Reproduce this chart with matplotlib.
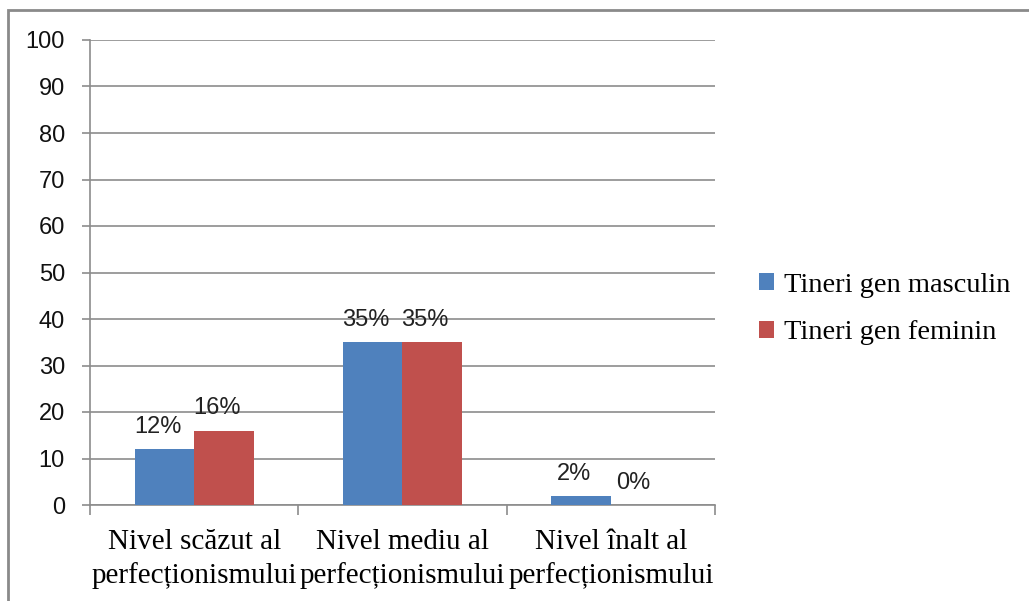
import numpy as np
import matplotlib.pyplot as plt
from matplotlib.patches import Rectangle

# date: procente pe niveluri de perfectionism
categorii = ["Nivel scăzut al\nperfecționismului",
             "Nivel mediu al\nperfecționismului",
             "Nivel înalt al\nperfecționismului"]
masculin = [12, 35, 2]
feminin = [16, 35, 0]
serii = ["Tineri gen masculin", "Tineri gen feminin"]
culori = ["#4F81BD", "#C0504D"]

GRI = "#8c8c8c"

fig = plt.figure(figsize=(10.29, 6.01), dpi=100)
ax = fig.add_axes([90 / 1029, 1 - 505 / 601, 625 / 1029, 465 / 601])

x = np.arange(len(categorii))
w = 0.285
bare1 = ax.bar(x - w / 2, masculin, w, color=culori[0], label=serii[0], zorder=3)
bare2 = ax.bar(x + w / 2, feminin, w, color=culori[1], label=serii[1], zorder=3)

# etichete cu procente deasupra barelor
for bare, vals in [(bare1, masculin), (bare2, feminin)]:
    for b, v in zip(bare, vals):
        ax.annotate(f"{v}%", (b.get_x() + b.get_width() / 2, v),
                    xytext=(-5, 8), textcoords="offset points",
                    ha="center", va="bottom", fontsize=17,
                    family="Liberation Sans", color="#222222")

ax.set_ylim(0, 100)
ax.set_xlim(-0.5, 2.5)
ax.set_yticks(range(0, 101, 10))
ax.yaxis.grid(True, color=GRI, linewidth=1.2, zorder=0)
ax.tick_params(axis="y", length=6, width=1.2, color=GRI, pad=12,
               labelsize=17, labelcolor="#111111")
for t in ax.get_yticklabels():
    t.set_family("Liberation Sans")

# bifele de pe axa x sunt intre categorii
ax.set_xticks([-0.5, 0.5, 1.5, 2.5])
ax.set_xticklabels([])
ax.set_xticks(x, minor=True)
ax.set_xticklabels(categorii, minor=True, fontsize=21,
                   family="Liberation Serif", linespacing=1.35)
ax.tick_params(axis="x", which="major", length=7, width=1.2, color=GRI)
ax.tick_params(axis="x", which="minor", length=0, pad=17)

for s in ["top", "right"]:
    ax.spines[s].set_visible(False)
for s in ["left", "bottom"]:
    ax.spines[s].set_color(GRI)
    ax.spines[s].set_linewidth(1.2)

leg = fig.legend(handles=[bare1, bare2], labels=serii, loc="center left",
                 bbox_to_anchor=(733 / 1029, 1 - 309 / 601), frameon=False,
                 prop={"family": "Liberation Serif", "size": 20.5},
                 handlelength=0.55, handleheight=0.55, handletextpad=0.35,
                 labelspacing=0.8)

# chenarul graficului
fig.patches.append(Rectangle((8 / 1029, -0.1), 1.2, 1 - 10 / 601 + 0.1,
                             transform=fig.transFigure, fill=False,
                             edgecolor="#8a8a8a", linewidth=2))

fig.savefig("out.png", dpi=100)
